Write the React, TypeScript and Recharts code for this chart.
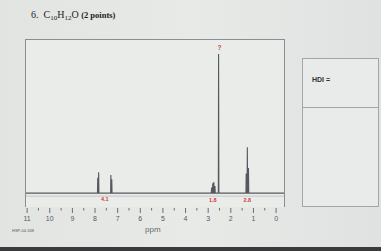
import React from "react";
import { LineChart, Line, XAxis, YAxis, ReferenceDot, ReferenceLine } from "recharts";

// 1H NMR peaks of C10H12O (ppm, relative height)
const peakPpm = [7.88, 7.84, 7.3, 7.26, 2.85, 2.8, 2.75, 2.7, 2.54, 1.32, 1.27, 1.22];
const peakHeight = [11, 15, 13, 10, 4, 7, 8, 5, 100, 14, 33, 18];

// integration labels
const integralText = ["4.1", "1.8", "?", "2.8"];
const integralPpm = [7.57, 2.8, 2.5, 1.27];
const integralLevel = [-4.5, -5, 104.5, -5];

const tickPpm = [11, 10.5, 10, 9.5, 9, 8.5, 8, 7.5, 7, 6.5, 6, 5.5, 5, 4.5, 4, 3.5, 3, 2.5, 2, 1.5, 1, 0.5, 0];

const spectrum: { ppm: number; y: number }[] = [{ ppm: 11.05, y: 0 }];
peakPpm.forEach((p, i) => {
  spectrum.push({ ppm: p + 0.012, y: 0 }, { ppm: p, y: peakHeight[i] }, { ppm: p - 0.012, y: 0 });
});
spectrum.push({ ppm: -0.35, y: 0 });
spectrum.sort((a, b) => b.ppm - a.ppm);

function PpmTick({ x, y, payload }: { x?: number; y?: number; payload?: { value: number } }) {
  const v = payload?.value ?? 0;
  const major = Number.isInteger(v);
  return (
    <g>
      <line x1={x} x2={x} y1={(y ?? 0) + 1} y2={(y ?? 0) + (major ? 6 : 3.5)} stroke="#6b6e72" strokeWidth={1} />
      {major && (
        <text x={x} y={(y ?? 0) + 14} textAnchor="middle" fontSize={7} fill="#55585c" fontFamily="Liberation Sans, Arial, sans-serif">
          {v}
        </text>
      )}
    </g>
  );
}

function IntegralLabel({ viewBox, value }: { viewBox?: { x: number; y: number }; value?: string }) {
  if (!viewBox) return null;
  const big = value === "?";
  return (
    <text
      x={viewBox.x}
      y={viewBox.y + 2}
      textAnchor="middle"
      fontSize={big ? 6.5 : 5.5}
      fontWeight={700}
      fill="#d23a3a"
      fontFamily="Liberation Sans, Arial, sans-serif"
    >
      {value}
    </text>
  );
}

const sub = { fontSize: 7, verticalAlign: "-2px", lineHeight: 0 } as const;

export default function App() {
  return (
    <div
      style={{
        position: "absolute",
        left: 0,
        top: 0,
        width: 381,
        height: 251,
        overflow: "hidden",
        background: "linear-gradient(90deg, #e2e4e2 0%, #e8eae8 50%, #e0e2e1 100%)",
      }}
    >
      <div
        style={{
          position: "absolute",
          left: 31,
          top: 9,
          fontFamily: "Liberation Serif, Times New Roman, serif",
          fontSize: 10,
          color: "#222",
          whiteSpace: "nowrap",
        }}
      >
        6.&nbsp; C<span style={sub}>10</span>H<span style={sub}>12</span>O <b style={{ fontSize: 8.5 }}>(2 points)</b>
      </div>

      <div
        style={{
          position: "absolute",
          left: 25,
          top: 39,
          width: 258,
          height: 167,
          border: "1px solid #8a8d91",
          borderBottom: "none",
          background: "#eaecea",
        }}
      />

      <div style={{ position: "absolute", left: 16, top: 40 }}>
        <LineChart width={268} height={196} data={spectrum} margin={{ top: 0, right: 0, bottom: 0, left: 10 }}>
          <XAxis
            type="number"
            dataKey="ppm"
            domain={[-0.35, 11.05]}
            reversed
            allowDataOverflow
            ticks={tickPpm}
            interval={0}
            tick={<PpmTick />}
            tickLine={false}
            tickSize={0}
            tickMargin={0}
            axisLine={false}
            height={29}
          />
          <YAxis hide domain={[-10, 110]} allowDataOverflow />
          <ReferenceLine y={-2.2} stroke="#b8bbbe" strokeWidth={0.8} />
          <Line
            type="linear"
            dataKey="y"
            stroke="#55585d"
            strokeWidth={1.1}
            dot={false}
            isAnimationActive={false}
          />
          {integralText.map((t, i) => (
            <ReferenceDot
              key={t}
              x={integralPpm[i]}
              y={integralLevel[i]}
              r={0}
              stroke="none"
              fill="none"
              label={<IntegralLabel value={t} />}
            />
          ))}
        </LineChart>
      </div>

      <div
        style={{
          position: "absolute",
          left: 12,
          top: 228,
          fontFamily: "Liberation Sans, Arial, sans-serif",
          fontSize: 4,
          color: "#555",
        }}
      >
        HSP-04-348
      </div>
      <div
        style={{
          position: "absolute",
          left: 145,
          top: 225,
          fontFamily: "Liberation Sans, Arial, sans-serif",
          fontSize: 8,
          color: "#66696d",
        }}
      >
        ppm
      </div>

      <div
        style={{
          position: "absolute",
          left: 302,
          top: 58,
          width: 75,
          height: 147,
          border: "1px solid #a3a6a9",
          background: "#e9ebea",
        }}
      >
        <div style={{ height: 48, borderBottom: "1px solid #a3a6a9", position: "relative" }}>
          <div
            style={{
              position: "absolute",
              left: 9,
              top: 17,
              fontFamily: "Liberation Sans, Arial, sans-serif",
              fontSize: 7,
              fontWeight: 700,
              color: "#333",
            }}
          >
            HDI =
          </div>
        </div>
      </div>

      <div style={{ position: "absolute", left: 0, top: 247, width: 381, height: 4, background: "#3a3a3c" }} />
    </div>
  );
}
